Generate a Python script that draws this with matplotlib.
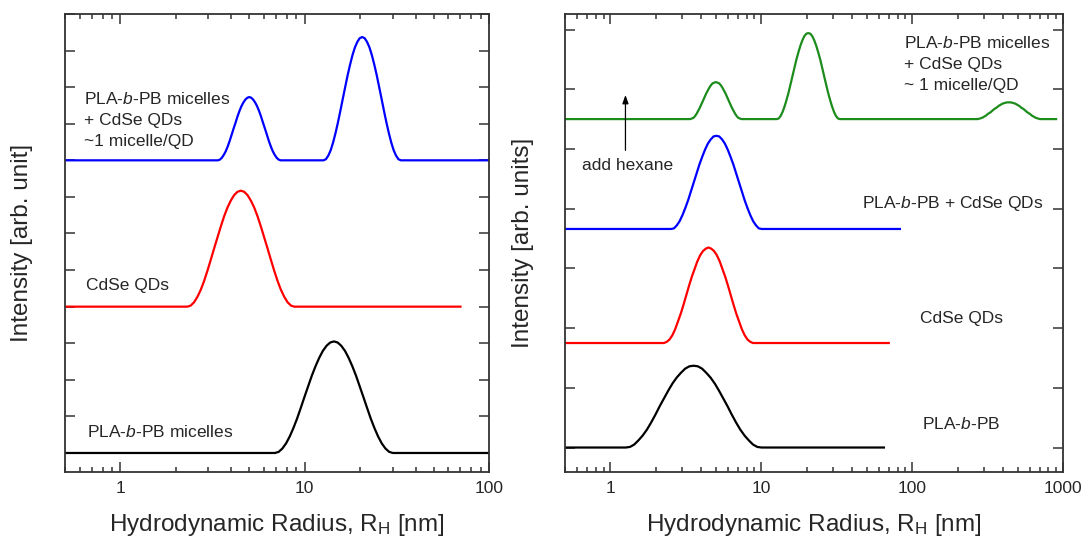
import matplotlib
matplotlib.use("Agg")
import matplotlib.pyplot as plt
from matplotlib.ticker import LogLocator, NullFormatter, FixedLocator

# ---------------- data: DLS size distributions (radius in nm, intensity in arb. units) ----------------
# Left panel: PLA-b-PB micelles
micelles_r = [0.5,
              6.893, 7.218, 7.557, 7.914, 8.287, 8.678, 9.087, 9.514, 9.963, 10.43, 10.92, 11.44, 11.98,
              12.54, 13.13, 13.75, 14.40, 15.08, 15.79, 16.54, 17.31, 18.13, 18.99, 19.88, 20.81, 21.80,
              22.82, 23.90, 25.02, 26.20, 27.44, 28.73, 30.08,
              100]
micelles_i = [0,
              0, 0.03, 0.12, 0.26, 0.45, 0.68, 0.94, 1.23, 1.53, 1.82, 2.11, 2.37, 2.60, 2.79, 2.93, 3.02,
              3.05,
              3.02, 2.93, 2.79, 2.60, 2.37, 2.11, 1.82, 1.53, 1.23, 0.94, 0.68, 0.45, 0.26, 0.12, 0.03, 0,
              0]

# Left panel: CdSe QDs
qds_r = [0.5,
         2.308, 2.406, 2.509, 2.616, 2.727, 2.843, 2.964, 3.090, 3.222, 3.360, 3.503, 3.652, 3.808,
         3.971, 4.140, 4.316, 4.500, 4.692, 4.891, 5.099, 5.318, 5.545, 5.781, 6.027, 6.285, 6.553,
         6.832, 7.123, 7.426, 7.741, 8.071, 8.417, 8.774,
         70]
qds_i = [0,
         0, 0.03, 0.12, 0.27, 0.46, 0.70, 0.98, 1.28, 1.59, 1.89, 2.19, 2.47, 2.71, 2.90, 3.05, 3.14,
         3.17,
         3.14, 3.05, 2.90, 2.71, 2.47, 2.19, 1.89, 1.59, 1.28, 0.98, 0.70, 0.46, 0.27, 0.12, 0.03, 0,
         0]

# Left panel: micelles + QDs (two populations)
mix_r = [0.5,
         3.380, 3.464, 3.550, 3.638, 3.728, 3.820, 3.914, 4.012, 4.112, 4.213, 4.317, 4.424, 4.534,
         4.646, 4.761, 4.879, 5.000, 5.124, 5.251, 5.381, 5.514, 5.651, 5.791, 5.934, 6.080, 6.231,
         6.387, 6.545, 6.706, 6.872, 7.042, 7.217, 7.396,
         12.64, 13.03, 13.43, 13.84, 14.26, 14.70, 15.15, 15.62, 16.10, 16.59, 17.10, 17.63, 18.17,
         18.73, 19.30, 19.89, 20.50, 21.13, 21.77, 22.44, 23.13, 23.84, 24.58, 25.33, 26.10, 26.90,
         27.74, 28.59, 29.47, 30.36, 31.29, 32.25, 33.25,
         100]
mix_i = [0,
         0, 0.02, 0.07, 0.15, 0.25, 0.38, 0.53, 0.70, 0.87, 1.03, 1.20, 1.35, 1.48, 1.58, 1.66, 1.71,
         1.73,
         1.71, 1.66, 1.58, 1.48, 1.35, 1.20, 1.03, 0.87, 0.70, 0.53, 0.38, 0.25, 0.15, 0.07, 0.02, 0,
         0, 0.03, 0.13, 0.28, 0.49, 0.75, 1.04, 1.36, 1.69, 2.01, 2.33, 2.62, 2.88, 3.09, 3.24, 3.34,
         3.37,
         3.34, 3.24, 3.09, 2.88, 2.62, 2.33, 2.01, 1.69, 1.36, 1.04, 0.75, 0.49, 0.28, 0.13, 0.03, 0,
         0]

left_offsets = [0, 4, 8]

# Right panel: PLA-b-PB
pb_r = [0.5,
        1.263, 1.348, 1.438, 1.534, 1.636, 1.746, 1.863, 1.987, 2.120, 2.262, 2.414, 2.575, 2.747,
        2.931, 3.127, 3.337, 3.560, 3.798, 4.053, 4.324, 4.614, 4.922, 5.250, 5.603, 5.978, 6.378,
        6.803, 7.259, 7.747, 8.262, 8.813, 9.402, 10.03,
        65]
pb_i = [0,
        0, 0.01, 0.05, 0.12, 0.20, 0.30, 0.42, 0.55, 0.69, 0.82, 0.95, 1.07, 1.17, 1.25, 1.32, 1.36,
        1.37,
        1.36, 1.32, 1.25, 1.17, 1.07, 0.95, 0.82, 0.69, 0.55, 0.42, 0.30, 0.20, 0.12, 0.05, 0.01, 0,
        0]

# Right panel: CdSe QDs
qd2_r = [0.5,
         2.266, 2.364, 2.467, 2.574, 2.686, 2.803, 2.924, 3.051, 3.183, 3.321, 3.465, 3.615, 3.772,
         3.936, 4.106, 4.284, 4.470, 4.664, 4.866, 5.076, 5.297, 5.527, 5.767, 6.017, 6.277, 6.549,
         6.833, 7.128, 7.439, 7.763, 8.099, 8.452, 8.818,
         70]
qd2_i = [0,
         0, 0.02, 0.06, 0.13, 0.23, 0.36, 0.49, 0.64, 0.80, 0.96, 1.11, 1.24, 1.37, 1.47, 1.54, 1.58,
         1.60,
         1.58, 1.54, 1.47, 1.37, 1.24, 1.11, 0.96, 0.80, 0.64, 0.49, 0.36, 0.23, 0.13, 0.06, 0.02, 0,
         0]

# Right panel: PLA-b-PB + CdSe QDs
pbqd_r = [0.5,
          2.526, 2.638, 2.754, 2.875, 3.002, 3.135, 3.273, 3.417, 3.568, 3.726, 3.890, 4.062, 4.241,
          4.428, 4.623, 4.827, 5.040, 5.262, 5.495, 5.737, 5.990, 6.253, 6.530, 6.817, 7.119, 7.434,
          7.761, 8.103, 8.462, 8.835, 9.224, 9.629, 10.06,
          83]
pbqd_i = [0,
          0, 0.01, 0.06, 0.13, 0.23, 0.35, 0.48, 0.63, 0.78, 0.93, 1.08, 1.21, 1.33, 1.43, 1.50, 1.55,
          1.56,
          1.55, 1.50, 1.43, 1.33, 1.21, 1.08, 0.93, 0.78, 0.63, 0.48, 0.35, 0.23, 0.13, 0.06, 0.01, 0,
          0]

# Right panel: after adding hexane (three populations)
hex_r = [0.5,
         3.380, 3.464, 3.550, 3.638, 3.728, 3.820, 3.914, 4.012, 4.112, 4.213, 4.317, 4.424, 4.534,
         4.646, 4.761, 4.879, 5.000, 5.124, 5.251, 5.381, 5.514, 5.651, 5.791, 5.934, 6.080, 6.231,
         6.387, 6.545, 6.706, 6.872, 7.042, 7.217, 7.396,
         12.64, 13.03, 13.43, 13.84, 14.26, 14.70, 15.15, 15.62, 16.10, 16.59, 17.10, 17.63, 18.17,
         18.73, 19.30, 19.89, 20.50, 21.13, 21.77, 22.44, 23.13, 23.84, 24.58, 25.33, 26.10, 26.90,
         27.74, 28.59, 29.47, 30.36, 31.29, 32.25, 33.25,
         263.9, 272.4, 281.2, 290.2, 299.5, 309.1, 319.1, 329.4, 340.0, 350.9, 362.2, 373.9, 385.9,
         398.3, 411.1, 424.3, 438.0, 452.1, 466.7, 481.7, 497.1, 513.1, 529.7, 546.7, 564.2, 582.4,
         601.2, 620.7, 640.5, 661.1, 682.2, 704.3, 727.0,
         900]
hex_i = [0,
         0, 0.01, 0.02, 0.05, 0.09, 0.14, 0.19, 0.25, 0.31, 0.37, 0.43, 0.48, 0.53, 0.57, 0.60, 0.61,
         0.62,
         0.61, 0.60, 0.57, 0.53, 0.48, 0.43, 0.37, 0.31, 0.25, 0.19, 0.14, 0.09, 0.05, 0.02, 0.01, 0,
         0, 0.01, 0.05, 0.12, 0.21, 0.32, 0.44, 0.58, 0.72, 0.86, 1.00, 1.12, 1.23, 1.32, 1.39, 1.43,
         1.44,
         1.43, 1.39, 1.32, 1.23, 1.12, 1.00, 0.86, 0.72, 0.58, 0.44, 0.32, 0.21, 0.12, 0.05, 0.01, 0,
         0, 0.00, 0.01, 0.02, 0.04, 0.06, 0.09, 0.11, 0.14, 0.17, 0.19, 0.22, 0.24, 0.26, 0.27, 0.28,
         0.28,
         0.28, 0.27, 0.26, 0.24, 0.22, 0.19, 0.17, 0.14, 0.11, 0.09, 0.06, 0.04, 0.02, 0.01, 0.00, 0,
         0]

right_offsets = [0, 1.75, 3.66, 5.50]

# ---------------- styling ----------------
plt.rcParams["font.family"] = ["Liberation Sans", "DejaVu Sans"]
plt.rcParams["mathtext.fontset"] = "custom"
plt.rcParams["mathtext.rm"] = "Liberation Sans"
plt.rcParams["mathtext.it"] = "Liberation Sans:italic"
plt.rcParams["mathtext.default"] = "regular"

TXT = "#262626"
AX = "#333333"
LW = 1.6
FS = 12.5
LFS = 17.5

fig = plt.figure(figsize=(10.86, 5.4), dpi=100)
W, H = 1086, 540
ax1 = fig.add_axes([65 / W, 68 / H, 424 / W, 458 / H])
ax2 = fig.add_axes([565 / W, 68 / H, 498 / W, 458 / H])


def style(ax, xmax, xticks, ymin, ymax, nticks):
    ax.set_xscale("log")
    ax.set_xlim(0.5, xmax)
    ax.set_ylim(ymin, ymax)
    ax.xaxis.set_major_locator(FixedLocator(xticks))
    ax.set_xticklabels([f"{t:g}" for t in xticks])
    ax.xaxis.set_minor_locator(LogLocator(base=10, subs=range(2, 10), numticks=20))
    ax.xaxis.set_minor_formatter(NullFormatter())
    ax.set_yticks(range(0, nticks + 1))
    ax.set_yticklabels([])
    ax.tick_params(axis="both", which="major", direction="in", length=7, width=1.1,
                   top=True, right=True, color=AX, labelsize=FS, labelcolor=TXT, pad=6.5)
    ax.tick_params(axis="x", which="minor", direction="in", length=3.6, width=1.1,
                   top=True, color=AX)
    ax.tick_params(axis="y", which="minor", left=False, right=False)
    for s in ax.spines.values():
        s.set_linewidth(1.3)
        s.set_color(AX)
    ax.set_xlabel(r"Hydrodynamic Radius, R$_{H}$ [nm]", fontsize=LFS, color=TXT)
    ax.xaxis.label.set_va("center")


style(ax1, 100, [1, 10, 100], -0.52, 12.0, 12)
style(ax2, 1000, [1, 10, 100, 1000], -0.41, 7.26, 7)

ax1.set_ylabel("Intensity [arb. unit]", fontsize=LFS, color=TXT)
ax2.set_ylabel("Intensity [arb. units]", fontsize=LFS, color=TXT)
for ax, x0, xpx, w in ((ax1, 65, 22, 424), (ax2, 565, 523, 498)):
    ax.yaxis.label.set_va("center")
    ax.yaxis.set_label_coords((xpx - x0) / w, 0.5)
    ax.xaxis.set_label_coords(0.5, (15 - 68) / 458)

# ---------------- curves ----------------
for r, i, off, c in ((micelles_r, micelles_i, left_offsets[0], "black"),
                     (qds_r, qds_i, left_offsets[1], "#ff0000"),
                     (mix_r, mix_i, left_offsets[2], "#0000ff")):
    ax1.plot(r, [v + off for v in i], color=c, lw=LW, solid_joinstyle="round")

for r, i, off, c in ((pb_r, pb_i, right_offsets[0], "black"),
                     (qd2_r, qd2_i, right_offsets[1], "#ff0000"),
                     (pbqd_r, pbqd_i, right_offsets[2], "#0000ff"),
                     (hex_r, hex_i, right_offsets[3], "#1c8c1c")):
    ax2.plot(r, [v + off for v in i], color=c, lw=LW, solid_joinstyle="round")

# ---------------- annotations ----------------
kw = dict(fontsize=FS, color=TXT, ha="left", va="center")
ax1.text(0.637, 9.10, "PLA-$\\mathit{b}$-PB micelles\n+ CdSe QDs\n~1 micelle/QD", linespacing=1.5, **kw)
ax1.text(0.65, 4.59, "CdSe QDs", **kw)
ax1.text(0.66, 0.58, "PLA-$\\mathit{b}$-PB micelles", **kw)

ax2.text(88.9, 6.43, "PLA-$\\mathit{b}$-PB micelles\n+ CdSe QDs\n~ 1 micelle/QD", linespacing=1.5, **kw)
ax2.text(0.649, 4.72, "add hexane", **kw)
ax2.annotate("", xy=(1.258, 5.95), xytext=(1.258, 4.93),
             arrowprops=dict(arrowstyle="-|>,head_length=0.5,head_width=0.18", color="black", lw=0.9))
ax2.text(46.3, 4.09, "PLA-$\\mathit{b}$-PB + CdSe QDs", **kw)
ax2.text(113, 2.16, "CdSe QDs", **kw)
ax2.text(117, 0.39, "PLA-$\\mathit{b}$-PB", **kw)

fig.savefig("out.png", dpi=100)
